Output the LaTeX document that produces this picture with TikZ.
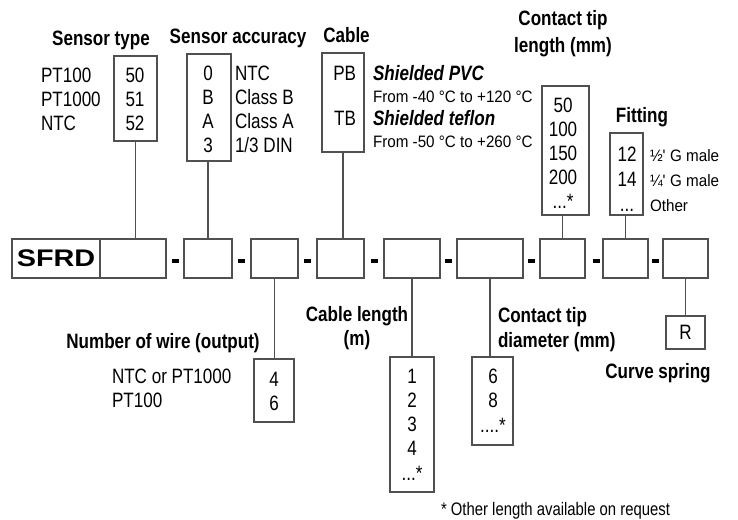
\documentclass[tikz,border=0pt]{standalone}
\usepackage{fontspec}
\setmainfont[FakeStretch=0.82]{Liberation Sans}
\newfontfamily\smallfam[FakeStretch=0.92]{Liberation Sans}
\newfontfamily\widefam[FakeStretch=1.2]{Liberation Sans}
\usepackage{tikz}
\definecolor{boxline}{RGB}{80,80,80}
\tikzset{
  every node/.style={inner sep=0pt, outer sep=0pt},
  txt/.style={font=\fontsize{15.6}{18}\selectfont},
  hdr/.style={font=\fontsize{15.6}{18}\selectfont\bfseries},
  hdrit/.style={font=\fontsize{15.6}{18}\selectfont\bfseries\itshape},
  note/.style={font=\smallfam\fontsize{12.4}{15}\selectfont},
  codebox/.style 2 args={draw=boxline, line width=0.8pt, minimum width=#1*0.75pt, minimum height=#2*0.75pt, txt},
  sepbar/.style={fill=black, minimum width=7*0.75pt, minimum height=4*0.75pt},
  link/.style={draw=boxline, line width=0.8pt}
}

\begin{document}
\begin{tikzpicture}[x=0.75pt, y=-0.75pt]
  \useasboundingbox (0,0) rectangle (738,519);

  \node [codebox={88}{39}, font=\widefam\bfseries\fontsize{18}{20}\selectfont] (sfrd) at (56,258.5) {SFRD};
  \node [codebox={66}{39}] (c1) at (133,258.5) {};
  \node [codebox={48}{39}] (c2) at (208,258.5) {};
  \node [codebox={47}{39}] (c3) at (274.5,258.5) {};
  \node [codebox={47}{39}] (c4) at (340.5,258.5) {};
  \node [codebox={56}{39}] (c5) at (412,258.5) {};
  \node [codebox={66}{39}] (c6) at (490,258.5) {};
  \node [codebox={45}{39}] (c7) at (562.5,258.5) {};
  \node [codebox={45}{39}] (c8) at (625.5,258.5) {};
  \node [codebox={45}{39}] (c9) at (685.5,258.5) {};
  \foreach \x [count=\i] in {175,241.5,307.5,374,448.5,531.5,596,655.5}
    \node [sepbar] (sep\i) at (\x,261) {};

  \node [hdr, anchor=base] (h-type) at (101,45) {Sensor type};
  \node [codebox={43}{85}] (type) at (135.5,98.5) {};
  \foreach \t/\c [count=\i] in {PT100/50, PT1000/51, NTC/52} {
    \node [txt, anchor=base west] (type-l\i) at (41,58+24*\i) {\t};
    \node [txt, anchor=base] (type-c\i) at (135,58+24*\i) {\c};
  }

  \node [hdr, anchor=base] (h-acc) at (238,43) {Sensor accuracy};
  \node [codebox={44}{107}] (acc) at (209,107.5) {};
  \foreach \c/\t [count=\i] in {0/NTC, B/Class B, A/Class A, 3/{1/3 DIN}} {
    \node [txt, anchor=base] (acc-c\i) at (208,57+23.8*\i) {\c};
    \node [txt, anchor=base west] (acc-l\i) at (235,57+23.8*\i) {\t};
  }

  \node [hdr, anchor=base] (h-cable) at (346.5,42) {Cable};
  \node [codebox={42}{99}] (cable) at (343,102.5) {};
  \node [txt, anchor=base east] (pb) at (356,80) {PB};
  \node [txt, anchor=base east] (tb) at (356,125) {TB};
  \node [hdrit, anchor=base west] (pvc) at (373,80) {Shielded PVC};
  \node [note, anchor=base west] (pvc-t) at (373,102) {From -40 °C to +120 °C};
  \node [hdrit, anchor=base west] (ptfe) at (373,125) {Shielded teflon};
  \node [note, anchor=base west] (ptfe-t) at (373,147) {From -50 °C to +260 °C};

  \node [hdr, anchor=base] (h-tlen1) at (563,25) {Contact tip};
  \node [hdr, anchor=base] (h-tlen2) at (563,52) {length (mm)};
  \node [codebox={47}{129}] (tlen) at (565.5,150.5) {};
  \foreach \c [count=\i] in {50,100,150,200}
    \node [txt, anchor=base] (tlen-c\i) at (563,88+24*\i) {\c};
  \node [txt, anchor=base] (tlen-c5) at (563,208) {...*};

  \node [hdr, anchor=base] (h-fit) at (642,122) {Fitting};
  \node [codebox={33}{82}] (fit) at (626.5,174) {};
  \node [txt, anchor=base] (fit-c1) at (627,161) {12};
  \node [txt, anchor=base] (fit-c2) at (627,186) {14};
  \node [txt, anchor=base] (fit-c3) at (627,211) {...};
  \node [note, anchor=base west] (fit-l1) at (650,161) {½\textquotesingle{} G male};
  \node [note, anchor=base west] (fit-l2) at (650,186) {¼\textquotesingle{} G male};
  \node [note, anchor=base west] (fit-l3) at (650,211) {Other};

  \node [hdr, anchor=base] (h-wire) at (163,348) {Number of wire (output)};
  \node [codebox={40}{63}] (wire) at (274,390.5) {};
  \node [txt, anchor=base west] (wire-l1) at (112,383) {NTC or PT1000};
  \node [txt, anchor=base west] (wire-l2) at (112,407) {PT100};
  \node [txt, anchor=base] (wire-c1) at (274,386) {4};
  \node [txt, anchor=base] (wire-c2) at (274,410) {6};

  \node [hdr, anchor=base] (h-clen1) at (357,321) {Cable length};
  \node [hdr, anchor=base] (h-clen2) at (357,345) {(m)};
  \node [codebox={44}{135}] (clen) at (412,424.5) {};
  \foreach \c [count=\i] in {1,2,3,4}
    \node [txt, anchor=base] (clen-c\i) at (412,358.75+24.25*\i) {\c};
  \node [txt, anchor=base] (clen-c5) at (412,480) {...*};

  \node [hdr, anchor=base west] (h-tdia1) at (498,322) {Contact tip};
  \node [hdr, anchor=base west] (h-tdia2) at (498,347) {diameter (mm)};
  \node [codebox={41}{88}] (tdia) at (492.5,401) {};
  \node [txt, anchor=base] (tdia-c1) at (493,383) {6};
  \node [txt, anchor=base] (tdia-c2) at (493,407) {8};
  \node [txt, anchor=base] (tdia-c3) at (493,432) {....*};

  \node [codebox={39}{33}] (spring) at (685.5,332.5) {R};
  \node [hdr, anchor=base] (h-spring) at (658,378) {Curve spring};

  \node [note, anchor=base west, font=\fontsize{13.6}{16}\selectfont] (foot) at (441,515) {* Other length available on request};

  \draw [link] (type.south) -- (type.south |- c1.north);
  \draw [link] (c2.north) -- (c2.north |- acc.south);
  \draw [link] (cable.south) -- (cable.south |- c4.north);
  \draw [link] (c7.north) -- (c7.north |- tlen.south);
  \draw [link] (c8.north) -- (c8.north |- fit.south);
  \draw [link] (c3.south) -- (c3.south |- wire.north);
  \draw [link] (c5.south) -- (c5.south |- clen.north);
  \draw [link] (c6.south) -- (c6.south |- tdia.north);
  \draw [link] (c9.south) -- (c9.south |- spring.north);
\end{tikzpicture}
\end{document}
